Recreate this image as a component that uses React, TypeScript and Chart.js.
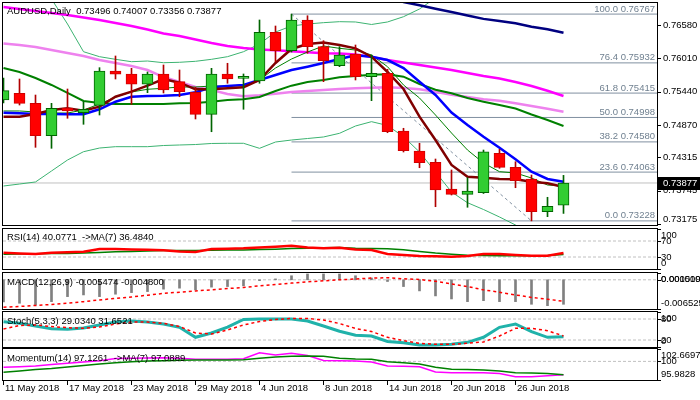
import { useEffect, useRef } from 'react';
import { Chart, registerables } from 'chart.js';

Chart.register(...registerables);

// ---------------- data ----------------
const barDates = [
  '11 May 2018', '14 May 2018', '15 May 2018', '16 May 2018', '17 May 2018', '18 May 2018',
  '21 May 2018', '22 May 2018', '23 May 2018', '24 May 2018', '25 May 2018', '28 May 2018',
  '29 May 2018', '30 May 2018', '31 May 2018', '1 Jun 2018', '4 Jun 2018', '5 Jun 2018',
  '6 Jun 2018', '7 Jun 2018', '8 Jun 2018', '11 Jun 2018', '12 Jun 2018', '13 Jun 2018',
  '14 Jun 2018', '15 Jun 2018', '18 Jun 2018', '19 Jun 2018', '20 Jun 2018', '21 Jun 2018',
  '22 Jun 2018', '25 Jun 2018', '26 Jun 2018', '27 Jun 2018', '28 Jun 2018', '29 Jun 2018',
];

const openP = [
  0.75297, 0.75412, 0.7524, 0.74686, 0.7516, 0.7508, 0.75206, 0.75793, 0.75742, 0.75566,
  0.75742, 0.7561, 0.75429, 0.75052, 0.75742, 0.75668, 0.75622, 0.76455, 0.76141, 0.76666,
  0.76209, 0.75884, 0.76084, 0.75696, 0.75754, 0.74766, 0.74424, 0.74231, 0.73774, 0.73683,
  0.73711, 0.74385, 0.74145, 0.73945, 0.73385, 0.73496,
];
const highP = [
  0.75673, 0.75656, 0.75382, 0.7524, 0.75485, 0.75268, 0.7585, 0.7605, 0.75839, 0.75776,
  0.75896, 0.7581, 0.75514, 0.75839, 0.75925, 0.75742, 0.76666, 0.76563, 0.76767, 0.76739,
  0.76312, 0.76209, 0.76238, 0.76067, 0.75822, 0.74813, 0.74556, 0.74287, 0.74099, 0.73967,
  0.74441, 0.74453, 0.74241, 0.74013, 0.73632, 0.74007,
];
const lowP = [
  0.75246, 0.75211, 0.74487, 0.7447, 0.74984, 0.74881, 0.7504, 0.75656, 0.75223, 0.75422,
  0.75417, 0.75353, 0.74972, 0.74754, 0.75583, 0.75138, 0.75583, 0.75952, 0.76118, 0.76096,
  0.7561, 0.75867, 0.75639, 0.75285, 0.74737, 0.74407, 0.74138, 0.73471, 0.73671, 0.73461,
  0.73697, 0.74128, 0.73796, 0.73228, 0.733, 0.73356,
];
const closeP = [
  0.75456, 0.7524, 0.74686, 0.75155, 0.75109, 0.75138, 0.75793, 0.75737, 0.75566, 0.75742,
  0.75468, 0.75439, 0.75052, 0.75742, 0.75656, 0.75702, 0.76455, 0.76141, 0.76666, 0.76209,
  0.75969, 0.76067, 0.75696, 0.75754, 0.74754, 0.74429, 0.74224, 0.73757, 0.73683, 0.7374,
  0.74412, 0.74145, 0.73916, 0.73385, 0.73478, 0.73877,
];

const maMaroon = [
  0.75011, 0.75011, 0.75057, 0.75126, 0.75155, 0.75114, 0.75182, 0.75353, 0.75439, 0.75542,
  0.75656, 0.75593, 0.7548, 0.7548, 0.75497, 0.75514, 0.75639, 0.7593, 0.7617, 0.76255,
  0.76281, 0.76238, 0.76181, 0.76038, 0.75776, 0.75485, 0.75011, 0.74612, 0.74185, 0.73984,
  0.73967, 0.73945, 0.7394, 0.73899, 0.73871, 0.73808,
];
const maBlue = [
  0.7508, 0.75069, 0.75057, 0.75057, 0.75052, 0.75052, 0.75138, 0.75268, 0.75353, 0.75365,
  0.7537, 0.75382, 0.75429, 0.75514, 0.75536, 0.75554, 0.75639, 0.75725, 0.7581, 0.75867,
  0.7593, 0.75998, 0.76062, 0.76038, 0.75981, 0.75844, 0.7561, 0.75382, 0.75083, 0.74869,
  0.74669, 0.74481, 0.74282, 0.7407, 0.73945, 0.73899,
];
const maThinGreen = [
  0.75109, 0.75109, 0.75092, 0.75074, 0.75074, 0.75126, 0.75228, 0.75348, 0.75434, 0.7548,
  0.75497, 0.75519, 0.75519, 0.75536, 0.75536, 0.75554, 0.75639, 0.75844, 0.75998, 0.76118,
  0.76221, 0.76181, 0.76152, 0.76067, 0.75867, 0.75554, 0.75331, 0.7504, 0.74732, 0.74441,
  0.74219, 0.7407, 0.74048, 0.73962, 0.73842, 0.73825,
];
const bbMiddle = [
  0.75844, 0.75776, 0.75673, 0.75554, 0.75417, 0.7528, 0.75246, 0.75228, 0.75228, 0.75228,
  0.75228, 0.7524, 0.75246, 0.75268, 0.75297, 0.75309, 0.75348, 0.75451, 0.75542, 0.75605,
  0.75639, 0.75685, 0.75708, 0.7573, 0.75737, 0.75696, 0.75571, 0.75473, 0.75412, 0.75331,
  0.75268, 0.75211, 0.75151, 0.75049, 0.74955, 0.74852,
];
const bbUpper = [
  0.77864, 0.77692, 0.77453, 0.77025, 0.76597, 0.76123, 0.76038, 0.75993, 0.75952, 0.75964,
  0.75935, 0.75942, 0.75959, 0.75993, 0.76038, 0.76123, 0.76255, 0.7646, 0.76563, 0.76597,
  0.7662, 0.76637, 0.76632, 0.76589, 0.76632, 0.76722, 0.76854, 0.77042, 0.771, 0.77123,
  0.77111, 0.77128, 0.77145, 0.77076, 0.77111, 0.77076,
];
const bbLower = [
  0.73825, 0.73859, 0.73894, 0.74082, 0.7427, 0.74412, 0.74475, 0.74498, 0.74498, 0.74498,
  0.74518, 0.74527, 0.74535, 0.74553, 0.74556, 0.74556, 0.7447, 0.74578, 0.74612, 0.74638,
  0.74664, 0.74727, 0.74852, 0.74926, 0.74861, 0.74669, 0.74407, 0.74065, 0.73723, 0.73539,
  0.73423, 0.73295, 0.73158, 0.73021, 0.72816, 0.7273,
];
const maMagenta = [
  0.76888, 0.76854, 0.7682, 0.76786, 0.76751, 0.76709, 0.76666, 0.76614, 0.76563, 0.76503,
  0.76435, 0.76392, 0.76332, 0.76272, 0.76221, 0.76187, 0.76161, 0.76147, 0.7613, 0.76113,
  0.76096, 0.76093, 0.76075, 0.76033, 0.75981, 0.75939, 0.75896, 0.75853, 0.7581, 0.75759,
  0.75708, 0.75665, 0.75605, 0.75536, 0.75456, 0.75365,
];
const maViolet = [
  0.76264, 0.76238, 0.76204, 0.76152, 0.76101, 0.7605, 0.75981, 0.7593, 0.75879, 0.7581,
  0.7569, 0.75605, 0.75519, 0.75468, 0.754, 0.7536, 0.75377, 0.75405, 0.75434, 0.75451,
  0.75468, 0.75485, 0.75497, 0.75507, 0.75514, 0.75502, 0.7548, 0.75439, 0.75388, 0.75348,
  0.75309, 0.75285, 0.7524, 0.75194, 0.75148, 0.75097,
];
const maNavy = [
  null, null, null, null, null, null, null, null, null, null,
  null, null, null, null, null, null, null, null, null, null,
  null, null, null, 0.77094, 0.77034, 0.76975, 0.76917, 0.76859, 0.76803, 0.76743,
  0.76685, 0.76649, 0.76609, 0.76551, 0.76507, 0.76448,
];

const priceTicks = [0.7658, 0.7601, 0.7544, 0.7487, 0.74315, 0.73745, 0.73175];
const fibPct = [100, 76.4, 61.8, 50, 38.2, 23.6, 0];
const fibPrice = [0.76767, 0.75932, 0.75415, 0.74998, 0.7458, 0.74063, 0.73228];
const fibFromBar = 18;
const fibToBar = 33;

const rsi = [
  40.8, 39, 37.5, 40.8, 41.7, 43.3, 50, 50, 49, 48.3, 46.7, 44, 42.5, 50, 50.8, 51.7, 54, 55.8,
  58.3, 54, 51.7, 53.3, 48.8, 47.5, 37.5, 35, 32.5, 31.7, 30.8, 32.5, 37.5, 37.5, 35, 33.3, 33.3, 40.0771,
];
const rsiMa = [
  37, 37.5, 38, 38.5, 39, 40, 41.5, 43, 44, 45, 46, 46.5, 46.5, 47, 47.5, 47.5, 48.5, 49.5,
  51, 52, 53, 54, 52, 51.5, 50.5, 48, 44, 40, 37, 34.5, 33.5, 33.3, 33.3, 33.3, 34, 36.484,
];
const rsiLevels = [70, 30];
const rsiTicks = [100, 70, 30, 0];

const macdMain = [
  -0.00495, -0.00524, -0.00563, -0.00488, -0.00376, -0.00338, -0.00376, -0.00322, -0.00286, -0.00263,
  -0.00209, -0.00187, -0.00225, -0.00164, -0.00151, -0.00135, -0.0002, 0.0002, 0.0009, 0.0013,
  0.0013, 0.0013, 0.0009, 0.0004, -0.00038, -0.00151, -0.00248, -0.0036, -0.00428, -0.00488,
  -0.00466, -0.00488, -0.00488, -0.00547, -0.00578, -0.005474,
];
const macdSignal = [
  -0.00612, -0.00596, -0.00574, -0.00551, -0.00524, -0.00488, -0.0045, -0.00416, -0.00383, -0.00344,
  -0.00304, -0.00277, -0.00248, -0.00225, -0.00196, -0.00173, -0.00135, -0.00106, -0.00074, -0.00045,
  -0.00023, 0.0, 0.00018, 0.00038, 0.00047, 0.00022, 0.00007, -0.00034, -0.0009, -0.00151,
  -0.00225, -0.00277, -0.00338, -0.00394, -0.00434, -0.0048,
];
const macdLevels = [0];
const macdTicks = [0.001519, 0, -0.006525];

const stochK = [
  72.3, 67.7, 60, 52.3, 50.6, 54.3, 62.9, 71.4, 74.3, 71.4, 65.7, 56.3, 27.7, 40, 57, 78.6, 80, 80,
  80, 74.3, 60, 45, 33.4, 31.4, 15.7, 12.3, 5.7, 5.7, 7.7, 13.4, 27.7, 56.3, 65.7, 43.7, 27.7, 29.034,
];
const stochD = [
  51.4, 61.4, 62.9, 58.6, 55.1, 53.4, 57.1, 65.7, 71.4, 71.4, 67.7, 58.6, 40, 37.1, 48.6, 62.9, 72.9, 78.6,
  81.4, 81.4, 77.1, 67.1, 52.9, 44.3, 27.7, 18, 10.6, 7.7, 7.7, 10.6, 14.3, 31.4, 53.4, 53.4, 46.6, 31.6521,
];
const stochLevels = [80, 20];
const stochTicks = [100, 80, 20, 0];

const momentum = [
  98.72, 98.85, 99.0, 99.33, 99.59, 99.87, 100.15, 100.62, 100.66, 100.73, 100.79, 100.66,
  100.45, 100.45, 100.45, 100.58, 101.87, 101.38, 101.74, 101.27, 100.19, 100.15, 100.08, 99.87,
  99.0, 98.94, 98.85, 97.71, 97.56, 97.56, 97.56, 97.38, 96.69, 96.69, 96.91, 97.1261,
];
const momentumMa = [
  97.64, 97.92, 98.25, 98.46, 98.79, 99.11, 99.43, 99.71, 99.93, 100.08, 100.15, 100.23,
  100.3, 100.3, 100.3, 100.36, 100.66, 100.94, 101.09, 101.16, 101.09, 100.66, 100.51, 100.45,
  99.93, 99.71, 99.43, 98.72, 98.29, 98.25, 98.14, 97.92, 97.56, 97.49, 97.38, 97.0889,
];
const momLevels = [100];
const momTicks = [102.6697, 100, 95.9828];

// ---------------- layout / style ----------------
const X_MIN = -0.03125;
const X_MAX = 40.84375;
const FONT = '9.5px "Liberation Sans", Arial, sans-serif';
const LEVEL_COLOR = '#c0c0c0';
const LAST = closeP.length - 1;

const pts = (arr: (number | null)[]) => arr.map((y, x) => ({ x, y }));

function line(data: (number | null)[], color: string, width: number, dash: number[] = []) {
  return {
    type: 'line',
    data: pts(data),
    borderColor: color,
    backgroundColor: color,
    borderWidth: width,
    borderDash: dash,
    pointRadius: 0,
    tension: 0,
    fill: false,
    spanGaps: false,
    clip: 0,
  };
}

function hline(level: number, color: string, dash: number[] = [], x0 = X_MIN) {
  return {
    type: 'line',
    data: [{ x: x0, y: level }, { x: X_MAX, y: level }],
    borderColor: color,
    borderWidth: 1,
    borderDash: dash,
    pointRadius: 0,
    clip: 0,
  };
}

// later entries are drawn on top
const withOrder = (ds: any[]) => ds.map((d, i) => ({ ...d, order: ds.length - i }));

function options(top: number, bottom: number, yMin: number, yMax: number) {
  return {
    responsive: false,
    animation: false,
    events: [],
    layout: { padding: { left: 3, right: 43, top, bottom: 400 - bottom } },
    plugins: { legend: { display: false }, tooltip: { enabled: false } },
    scales: {
      x: { type: 'linear', min: X_MIN, max: X_MAX, display: false, offset: false, bounds: 'data' },
      y: { type: 'linear', min: yMin, max: yMax, display: false, bounds: 'data' },
    },
  };
}

function deco(id: string, ticks: number[], fmt: (v: number) => string, labelX: number, title: string, titleY: number, extra?: (chart: any) => void) {
  return {
    id,
    afterDraw(chart: any) {
      const { ctx, chartArea: a, scales } = chart;
      const y = scales.y;
      ctx.save();
      ctx.strokeStyle = '#000';
      ctx.lineWidth = 1;
      ctx.setLineDash([]);
      ctx.strokeRect(a.left - 0.5, a.top - 0.5, a.right - a.left + 1, a.bottom - a.top + 1);
      ctx.font = FONT;
      ctx.fillStyle = '#000';
      ctx.textAlign = 'left';
      ctx.textBaseline = 'middle';
      ticks.forEach((v) => {
        const py = y.getPixelForValue(v);
        const ty = Math.round(Math.min(Math.max(py, a.top), a.bottom)) + 0.5;
        ctx.beginPath();
        ctx.moveTo(a.right + 1, ty);
        ctx.lineTo(a.right + 4, ty);
        ctx.stroke();
        const cy = Math.min(Math.max(py, a.top + 6), a.bottom - 6);
        ctx.fillText(fmt(v), labelX, cy);
      });
      ctx.fillText(title, 7, titleY);
      if (extra) extra(chart);
      ctx.restore();
    },
  };
}

function mainConfig() {
  const up = closeP.map((c, i) => c >= openP[i]);
  const wickColors = up.map((u) => (u ? '#006400' : '#b00000'));
  const bodyFill = up.map((u) => (u ? '#32cd32' : '#ff0000'));
  const bodyBorder = up.map((u) => (u ? '#006400' : '#d00000'));
  const datasets = withOrder([
    hline(closeP[LAST], LEVEL_COLOR),
    ...fibPrice.map((p) => hline(p, '#8090a0', [], fibFromBar)),
    {
      type: 'line',
      data: [
        { x: fibFromBar, y: highP[fibFromBar] },
        { x: fibToBar, y: lowP[fibToBar] },
      ],
      borderColor: '#8090a0',
      borderWidth: 1,
      borderDash: [3, 3],
      pointRadius: 0,
      clip: 0,
    },
    line(bbUpper, '#3cb371', 1),
    line(bbLower, '#3cb371', 1),
    line(maNavy, '#000080', 2.5),
    line(maViolet, '#ee82ee', 2.5),
    line(maMagenta, '#ff00ff', 2.5),
    line(bbMiddle, '#008000', 2),
    line(maThinGreen, '#008000', 1),
    line(maBlue, '#0000ff', 2.5),
    line(maMaroon, '#800000', 2.5),
    {
      type: 'bar',
      data: lowP.map((l, i) => ({ x: i, y: [l, highP[i]] })),
      backgroundColor: wickColors,
      borderWidth: 0,
      barThickness: 1,
      grouped: false,
      clip: 0,
    },
    {
      type: 'bar',
      data: openP.map((o, i) => ({ x: i, y: [o, closeP[i]] })),
      backgroundColor: bodyFill,
      borderColor: bodyBorder,
      borderWidth: 1,
      borderSkipped: false,
      barThickness: 11,
      grouped: false,
      clip: 0,
    },
  ]);
  const title = `AUDUSD,Daily  ${openP[LAST].toFixed(5)} ${highP[LAST].toFixed(5)} ${lowP[LAST].toFixed(5)} ${closeP[LAST].toFixed(5)}`;
  return {
    type: 'bar',
    data: { datasets },
    options: options(3, 225, 0.731579, 0.769566),
    plugins: [
      deco('mainDeco', priceTicks, (v) => v.toFixed(5), 663, title, 11, (chart) => {
        const { ctx, chartArea: a, scales } = chart;
        const y = scales.y;
        ctx.fillStyle = '#708090';
        ctx.textAlign = 'right';
        ctx.textBaseline = 'alphabetic';
        fibPct.forEach((p, i) => {
          const py = y.getPixelForValue(fibPrice[i]);
          ctx.fillText(`${p.toFixed(1)} ${fibPrice[i].toFixed(5)}`, a.right - 2, py - 2.5);
        });
        const py = Math.round(y.getPixelForValue(closeP[LAST]));
        ctx.fillStyle = '#000';
        ctx.fillRect(a.right + 1, py - 6, 700 - a.right - 1, 13);
        ctx.fillStyle = '#fff';
        ctx.textAlign = 'left';
        ctx.textBaseline = 'middle';
        ctx.fillText(closeP[LAST].toFixed(5), 663, py + 0.5);
      }),
    ],
  };
}

function rsiConfig() {
  const datasets = withOrder([
    ...rsiLevels.map((l) => hline(l, LEVEL_COLOR, [3, 2])),
    line(rsiMa, '#008000', 1.5),
    line(rsi, '#ff0000', 2.5),
  ]);
  const title = `RSI(14) ${rsi[LAST].toFixed(4)}  ->MA(7) ${rsiMa[LAST].toFixed(4)}`;
  return {
    type: 'line',
    data: { datasets },
    options: options(229, 269, 0, 100),
    plugins: [deco('rsiDeco', rsiTicks, (v) => String(v), 661, title, 237.5)],
  };
}

function macdConfig() {
  const datasets = withOrder([
    ...macdLevels.map((l) => hline(l, LEVEL_COLOR, [3, 2])),
    {
      type: 'bar',
      data: pts(macdMain),
      backgroundColor: '#808080',
      borderWidth: 0,
      barThickness: 2,
      grouped: false,
      clip: 0,
    },
    line(macdSignal, '#ff0000', 1.5, [3, 3]),
  ]);
  const title = `MACD(12,26,9) ${macdMain[LAST].toFixed(6)} ${macdSignal[LAST].toFixed(6)}`;
  return {
    type: 'bar',
    data: { datasets },
    options: options(273, 309, -0.006525, 0.001519),
    plugins: [deco('macdDeco', macdTicks, (v) => v.toFixed(6), 661, title, 282)],
  };
}

function stochConfig() {
  const datasets = withOrder([
    ...stochLevels.map((l) => hline(l, LEVEL_COLOR, [3, 2])),
    line(stochK, '#20b2aa', 3),
    line(stochD, '#ff0000', 1.5, [3, 3]),
  ]);
  const title = `Stoch(5,3,3) ${stochK[LAST].toFixed(4)} ${stochD[LAST].toFixed(4)}`;
  return {
    type: 'line',
    data: { datasets },
    options: options(312, 347, 0, 100),
    plugins: [deco('stochDeco', stochTicks, (v) => String(v), 661, title, 321)],
  };
}

function momConfig() {
  const datasets = withOrder([
    ...momLevels.map((l) => hline(l, LEVEL_COLOR, [3, 2])),
    line(momentum, '#ff00ff', 1.5),
    line(momentumMa, '#008000', 1.5),
  ]);
  const title = `Momentum(14) ${momentum[LAST].toFixed(4)}  ->MA(7) ${momentumMa[LAST].toFixed(4)}`;
  return {
    type: 'line',
    data: { datasets },
    options: options(349, 380, momTicks[2], momTicks[0]),
    plugins: [
      deco('momDeco', momTicks, (v) => (v === 100 ? '100' : v.toFixed(4)), 661, title, 358.5, (chart) => {
        const { ctx, chartArea: a, scales } = chart;
        const x = scales.x;
        ctx.fillStyle = '#000';
        ctx.strokeStyle = '#000';
        ctx.textAlign = 'left';
        ctx.textBaseline = 'middle';
        barDates.forEach((d, i) => {
          if (i % 4 !== 0) return;
          const px = Math.round(x.getPixelForValue(i) - 0.5) + 0.5;
          ctx.beginPath();
          ctx.moveTo(px, a.bottom + 1);
          ctx.lineTo(px, a.bottom + 5);
          ctx.stroke();
          ctx.fillText(d, px + 1.5, 388.5);
        });
      }),
    ],
  };
}

export default function App() {
  const r1 = useRef<HTMLCanvasElement>(null);
  const r2 = useRef<HTMLCanvasElement>(null);
  const r3 = useRef<HTMLCanvasElement>(null);
  const r4 = useRef<HTMLCanvasElement>(null);
  const r5 = useRef<HTMLCanvasElement>(null);

  useEffect(() => {
    const charts = [
      new Chart(r1.current as HTMLCanvasElement, mainConfig() as any),
      new Chart(r2.current as HTMLCanvasElement, rsiConfig() as any),
      new Chart(r3.current as HTMLCanvasElement, macdConfig() as any),
      new Chart(r4.current as HTMLCanvasElement, stochConfig() as any),
      new Chart(r5.current as HTMLCanvasElement, momConfig() as any),
    ];
    return () => charts.forEach((c) => c.destroy());
  }, []);

  const cs: any = { position: 'absolute', left: 0, top: 0, width: 700, height: 400 };
  return (
    <div style={{ position: 'fixed', left: 0, top: 0, width: 700, height: 400, background: '#fff', overflow: 'hidden' }}>
      <canvas ref={r1} width={700} height={400} style={cs} />
      <canvas ref={r2} width={700} height={400} style={cs} />
      <canvas ref={r3} width={700} height={400} style={cs} />
      <canvas ref={r4} width={700} height={400} style={cs} />
      <canvas ref={r5} width={700} height={400} style={cs} />
    </div>
  );
}
